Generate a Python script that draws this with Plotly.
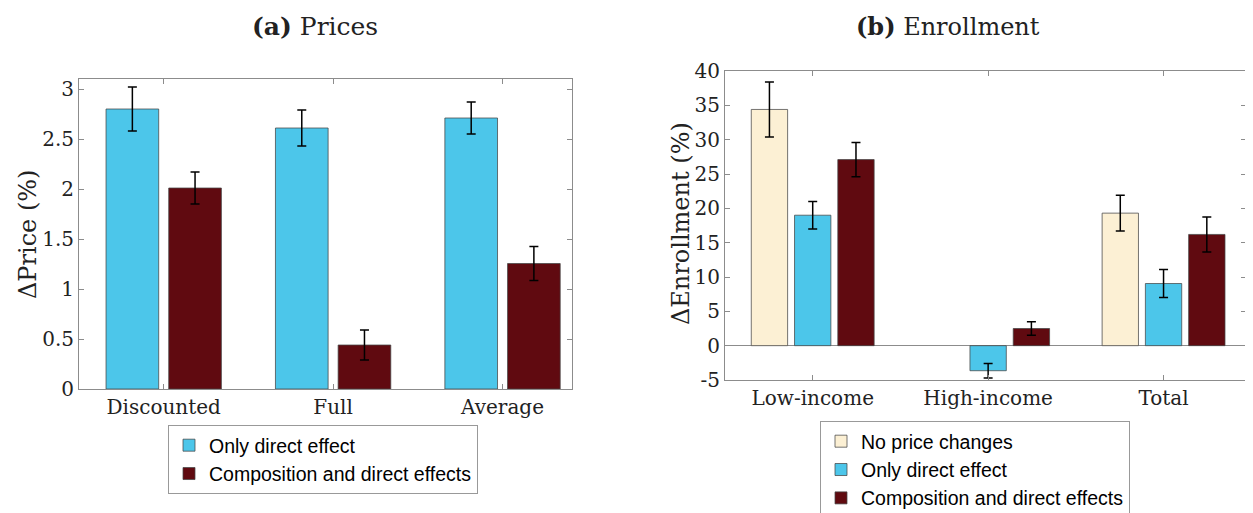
import plotly.graph_objects as go

# ---------------- data ----------------
price_categories = ["Discounted", "Full", "Average"]
price_direct = [2.80, 2.61, 2.71]
price_direct_err = [0.22, 0.18, 0.16]
price_comp = [2.01, 0.44, 1.255]
price_comp_err = [0.16, 0.15, 0.17]

enr_categories = ["Low-income", "High-income", "Total"]
enr_noprice = [34.4, None, 19.3]
enr_noprice_err = [4.0, None, 2.6]
enr_direct = [19.0, -3.65, 9.05]
enr_direct_err = [2.0, 1.05, 2.05]
enr_comp = [27.1, 2.5, 16.2]
enr_comp_err = [2.5, 1.0, 2.55]

price_yticks = [0, 0.5, 1, 1.5, 2, 2.5, 3]
price_yticklabels = ["0", "0.5", "1", "1.5", "2", "2.5", "3"]
enr_yticks = [-5, 0, 5, 10, 15, 20, 25, 30, 35, 40]
enr_yticklabels = ["-5", "0", "5", "10", "15", "20", "25", "30", "35", "40"]

# ---------------- style / layout helpers ----------------
PAGE_OFF = 8                      # default body margin of the html page
W, H = 1253 - PAGE_OFF, 513 - PAGE_OFF

def fx(px):
    return (px - PAGE_OFF) / W

def fy(py):
    return 1 - (py - PAGE_OFF) / H

C_CREAM = "#FCF0D4"
C_BLUE = "#4CC6EA"
C_RED = "#600A10"
EDGE = "rgba(70,70,70,0.75)"
AXC = "#8c8c8c"
SERIF = "DejaVu Serif"
SANS = "Liberation Sans"

def err(arr):
    return dict(type="data", array=arr, visible=True, color="black", thickness=1.5, width=4.5)

fig = go.Figure()

fig.add_trace(go.Bar(x=price_categories, y=price_direct, name="Only direct effect",
                     marker=dict(color=C_BLUE, line=dict(color=EDGE, width=1)),
                     error_y=err(price_direct_err), xaxis="x", yaxis="y", legend="legend"))
fig.add_trace(go.Bar(x=price_categories, y=price_comp, name="Composition and direct effects",
                     marker=dict(color=C_RED, line=dict(color=EDGE, width=1)),
                     error_y=err(price_comp_err), xaxis="x", yaxis="y", legend="legend"))

fig.add_trace(go.Bar(x=enr_categories, y=enr_noprice, name="No price changes",
                     marker=dict(color=C_CREAM, line=dict(color=EDGE, width=1)),
                     error_y=err(enr_noprice_err), xaxis="x2", yaxis="y2", legend="legend2"))
fig.add_trace(go.Bar(x=enr_categories, y=enr_direct, name="Only direct effect",
                     marker=dict(color=C_BLUE, line=dict(color=EDGE, width=1)),
                     error_y=err(enr_direct_err), xaxis="x2", yaxis="y2", legend="legend2"))
fig.add_trace(go.Bar(x=enr_categories, y=enr_comp, name="Composition and direct effects",
                     marker=dict(color=C_RED, line=dict(color=EDGE, width=1)),
                     error_y=err(enr_comp_err), xaxis="x2", yaxis="y2", legend="legend2"))

axis_common = dict(showline=True, linecolor=AXC, linewidth=1, mirror="ticks",
                   ticks="inside", ticklen=5, tickcolor=AXC, showgrid=False,
                   tickfont=dict(family=SERIF, size=20, color="#222"))

legend_common = dict(xanchor="left", yanchor="top", bordercolor="#999", borderwidth=1,
                     bgcolor="white", font=dict(family=SANS, size=19.5, color="black"),
                     tracegroupgap=0, itemwidth=30)

fig.update_layout(
    width=W, height=H,
    margin=dict(l=0, r=0, t=0, b=0, autoexpand=False),
    paper_bgcolor="white", plot_bgcolor="white",
    barmode="group", bargap=0.26, bargroupgap=0.16,
    xaxis=dict(domain=[fx(79), fx(572)], anchor="y", type="category",
               range=[-0.5, 2.41], zeroline=False, **axis_common),
    yaxis=dict(domain=[fy(389), fy(79)], anchor="x", range=[0, 3.1],
               tickvals=price_yticks, ticktext=price_yticklabels, zeroline=False, **axis_common),
    xaxis2=dict(domain=[fx(725), fx(1246)], anchor="y2", type="category",
                range=[-0.5, 2.47], zeroline=False, **axis_common),
    yaxis2=dict(domain=[fy(380), fy(71)], anchor="x2", range=[-5, 40],
                tickvals=enr_yticks, ticktext=enr_yticklabels,
                zeroline=True, zerolinecolor=AXC, zerolinewidth=1, **axis_common),
    legend=dict(x=fx(168), y=fy(425), **legend_common),
    legend2=dict(x=fx(820), y=fy(421), **legend_common),
    showlegend=True,
)

annotations = [
    dict(text="<b>(a)</b> Prices", x=fx(315), y=fy(26), xref="paper", yref="paper",
         showarrow=False, xanchor="center", yanchor="middle",
         font=dict(family=SERIF, size=25, color="#222")),
    dict(text="<b>(b)</b> Enrollment", x=fx(948), y=fy(10), xref="paper", yref="paper",
         showarrow=False, xanchor="center", yanchor="top",
         font=dict(family=SERIF, size=24, color="#222")),
    dict(text="ΔPrice (%)", x=fx(28), y=fy(235), xref="paper", yref="paper",
         showarrow=False, xanchor="center", yanchor="middle", textangle=-90,
         font=dict(family=SERIF, size=24, color="#222")),
    dict(text="ΔEnrollment (%)", x=fx(681), y=fy(224), xref="paper", yref="paper",
         showarrow=False, xanchor="center", yanchor="middle", textangle=-90,
         font=dict(family=SERIF, size=24, color="#222")),
]
fig.update_layout(annotations=annotations)

fig.write_html("out.html")
